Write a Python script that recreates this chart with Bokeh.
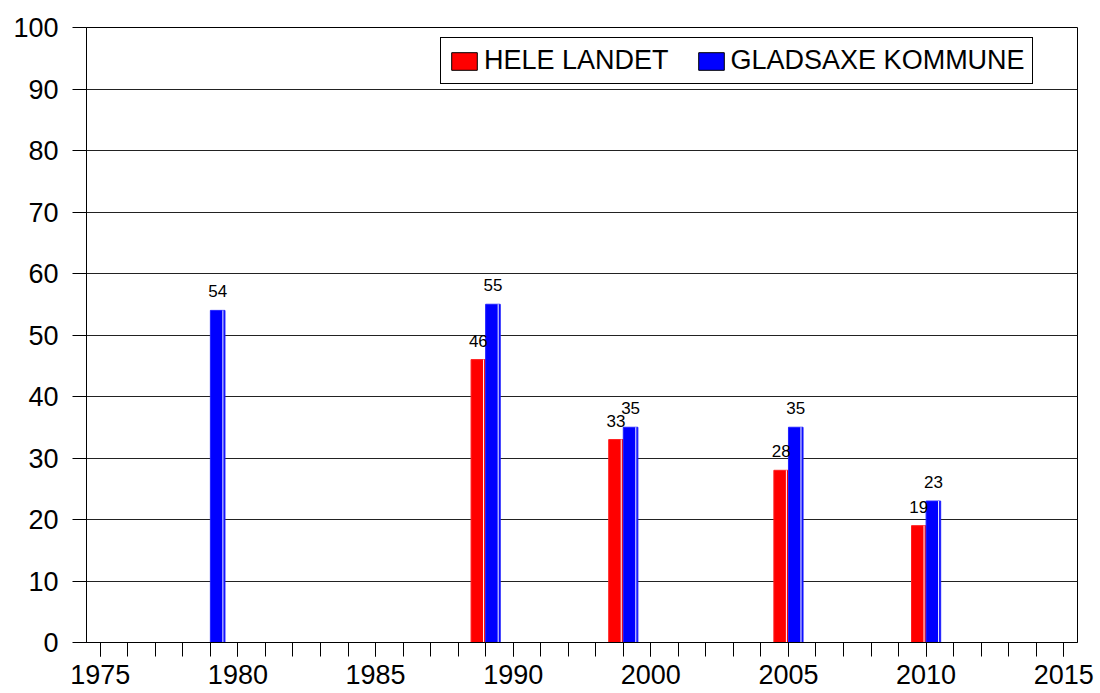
from bokeh.plotting import figure
from bokeh.models import Range1d, FixedTicker, ColumnDataSource, LabelSet, Legend, LegendItem
from bokeh.embed import file_html
from bokeh.resources import INLINE
from bokeh.core.properties import value

# ---- data ----
slot = [4, 14, 19, 25, 30]                 # category slot on the axis
hele_landet = [None, 46, 33, 28, 19]      # red series
gladsaxe = [54, 55, 35, 35, 23]           # blue series
axis_slots = [0, 5, 10, 15, 20, 25, 30, 35]
axis_labels = ["1975", "1980", "1985", "1990", "2000", "2005", "2010", "2015"]
y_ticks = list(range(0, 101, 10))

FONT = "Liberation Sans"
W = 0.53

p = figure(width=1100, height=693, x_range=Range1d(-0.5, 35.5), y_range=Range1d(0, 100),
           output_backend="svg", toolbar_location=None,
           min_border_left=86, min_border_right=23, min_border_top=27, min_border_bottom=51)
p.background_fill_color = "white"
p.border_fill_color = "white"
p.outline_line_color = "black"
p.outline_line_width = 1


def series(vals, side):
    xs, tops, labels = [], [], []
    for s, v in zip(slot, vals):
        if v is None:
            continue
        xs.append(s + side * W / 2)
        tops.append(v)
        labels.append(str(v))
    return ColumnDataSource(dict(x=xs, top=tops, label=labels,
                                 hx=[x + W / 2 - 0.075 for x in xs],
                                 zero=[0] * len(xs)))


red_src = series(hele_landet, -1)
blue_src = series(gladsaxe, 1)

p.vbar(x="x", top="top", width=W, source=red_src, fill_color="#FF0000", line_color="#FF2020", line_width=1)
p.vbar(x="x", top="top", width=W, source=blue_src, fill_color="#0000FF", line_color="#2020FF", line_width=1)
p.segment(x0="hx", y0="zero", x1="hx", y1="top", source=red_src, line_color="white", line_width=1)
p.segment(x0="hx", y0="zero", x1="hx", y1="top", source=blue_src, line_color="white", line_width=1)

for src in (red_src, blue_src):
    p.add_layout(LabelSet(x="x", y="top", text="label", source=src, y_offset=13,
                          text_align="center", text_baseline="bottom",
                          text_font=value(FONT), text_font_size="17px", text_color="black"))

# legend swatches: renderers with one point outside the visible range
leg_red = p.vbar(x=[-10], top=[1], width=0.5, fill_color="#FF0000", line_color="black")
leg_blue = p.vbar(x=[-10], top=[1], width=0.5, fill_color="#0000FF", line_color="black")
legend = Legend(items=[LegendItem(label="HELE LANDET", renderers=[leg_red]),
                       LegendItem(label="GLADSAXE KOMMUNE", renderers=[leg_blue])],
                orientation="horizontal", location=(354, 558))
legend.border_line_color = "black"
legend.border_line_alpha = 1
legend.border_line_width = 1
legend.background_fill_color = "white"
legend.background_fill_alpha = 1
legend.label_text_font = FONT
legend.label_text_font_size = "27px"
legend.label_text_color = "black"
legend.glyph_width = 32
legend.glyph_height = 22
legend.label_standoff = 4
legend.spacing = 26
legend.padding = 7
p.add_layout(legend)

# grid
p.xgrid.visible = False
p.ygrid.ticker = FixedTicker(ticks=y_ticks)
p.ygrid.grid_line_color = "#222222"
p.ygrid.grid_line_width = 1

# y axis
p.yaxis.ticker = FixedTicker(ticks=y_ticks)
p.yaxis.major_tick_out = 14
p.yaxis.major_tick_in = 0
p.yaxis.minor_tick_out = 0
p.yaxis.minor_tick_in = 0
p.yaxis.major_label_standoff = 14
p.yaxis.major_label_text_font = FONT
p.yaxis.major_label_text_font_size = "27px"
p.yaxis.major_label_text_color = "black"
p.yaxis.axis_line_color = "black"
p.yaxis.major_tick_line_color = "black"

# x axis
p.xaxis.ticker = FixedTicker(ticks=axis_slots, minor_ticks=list(range(0, 36)))
p.xaxis.major_label_overrides = {s: l for s, l in zip(axis_slots, axis_labels)}
p.xaxis.major_tick_out = 14
p.xaxis.major_tick_in = 0
p.xaxis.minor_tick_out = 14
p.xaxis.minor_tick_in = 0
p.xaxis.major_label_standoff = 8
p.xaxis.major_label_text_font = FONT
p.xaxis.major_label_text_font_size = "27px"
p.xaxis.major_label_text_color = "black"
p.xaxis.axis_line_color = "black"
p.xaxis.major_tick_line_color = "black"
p.xaxis.minor_tick_line_color = "black"

open("out.html", "w").write(file_html(p, INLINE))
